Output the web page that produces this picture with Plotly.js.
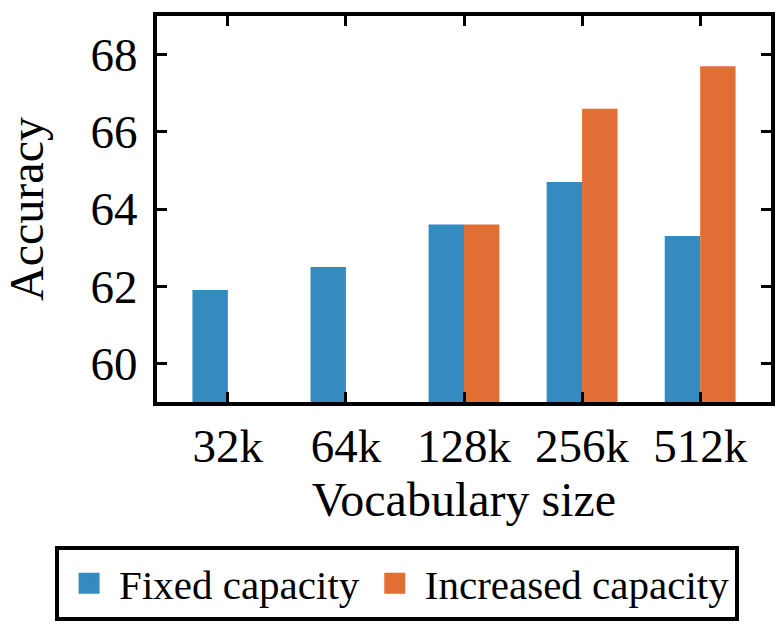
<!DOCTYPE html>
<html>
<head>
<meta charset="utf-8">
<script src="https://cdn.plot.ly/plotly-3.0.1.min.js"></script>
<style>html,body{margin:0;padding:0;background:#fff;}</style>
</head>
<body>
<div id="chart" style="width:783px;height:637px;"></div>
<script>
const categories = ["32k", "64k", "128k", "256k", "512k"];
const fixedCapacity = [61.9, 62.5, 63.6, 64.7, 63.3];
const increasedCapacity = [null, null, 63.6, 66.6, 67.7];
const seriesNames = ["Fixed capacity", "Increased capacity"];
const yTickVals = [60, 62, 64, 66, 68];

const blue = "#358AC0";
const orange = "#E16E34";
const FONT = "Liberation Serif, Times New Roman, serif";

const traces = [
  {type: "bar", x: categories, y: fixedCapacity, name: seriesNames[0],
   marker: {color: blue}, showlegend: false},
  {type: "bar", x: categories, y: increasedCapacity, name: seriesNames[1],
   marker: {color: orange}, showlegend: false},
  {type: "scatter", mode: "markers", x: [null], y: [null], name: seriesNames[0],
   marker: {symbol: "square", color: blue, size: 16, line: {color: blue, width: 5}}},
  {type: "scatter", mode: "markers", x: [null], y: [null], name: seriesNames[1],
   marker: {symbol: "square", color: orange, size: 16, line: {color: orange, width: 5}}}
];

const layout = {
  width: 783, height: 637,
  margin: {l: 157, r: 12, t: 16, b: 235},
  paper_bgcolor: "#fff", plot_bgcolor: "#fff",
  font: {family: FONT, color: "#000"},
  barmode: "group", bargap: 0.4, bargroupgap: 0,
  xaxis: {
    type: "category", range: [-0.6, 4.6],
    showline: true, linecolor: "#000", linewidth: 4, mirror: "ticks",
    ticks: "inside", ticklen: 10, tickwidth: 3, tickcolor: "#000",
    showgrid: false, zeroline: false,
    tickfont: {family: FONT, size: 47, color: "#000"},
    title: {text: "Vocabulary size", font: {family: FONT, size: 48, color: "#000"}, standoff: 12}
  },
  yaxis: {
    range: [59, 69], tickvals: yTickVals,
    showline: true, linecolor: "#000", linewidth: 4, mirror: "ticks",
    ticks: "inside", ticklen: 10, tickwidth: 3, tickcolor: "#000",
    showgrid: false, zeroline: false, ticklabelstandoff: 6,
    tickfont: {family: FONT, size: 47, color: "#000"},
    title: {text: "Accuracy", font: {family: FONT, size: 48, color: "#000"}, standoff: 34}
  },
  legend: {
    orientation: "h", xref: "paper", yref: "paper",
    x: -0.166, xanchor: "left", y: -0.373, yanchor: "top",
    itemwidth: 50,
    bordercolor: "#000", borderwidth: 4, bgcolor: "#fff",
    font: {family: FONT, size: 41, color: "#000"}
  }
};

Plotly.newPlot("chart", traces, layout, {displayModeBar: false, staticPlot: true});
</script>
</body>
</html>
